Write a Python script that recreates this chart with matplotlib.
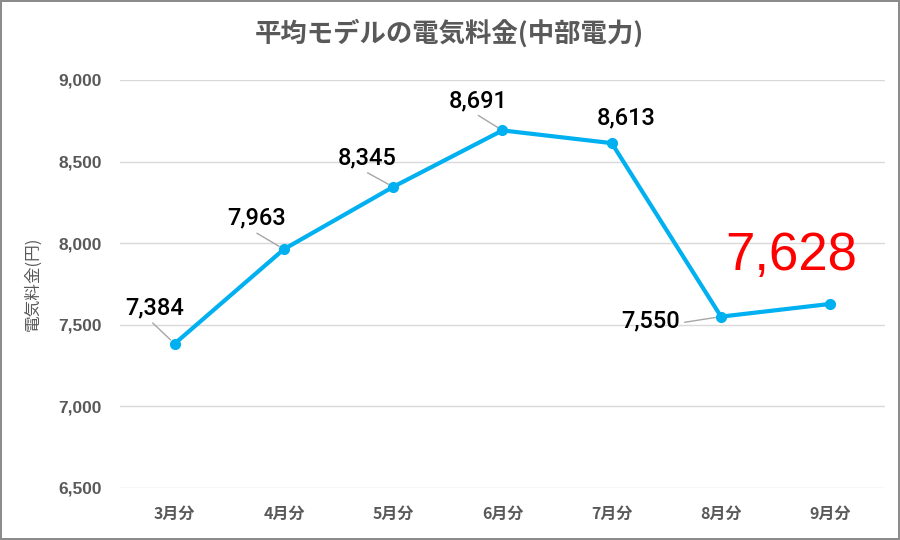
import matplotlib
matplotlib.use("Agg")
import matplotlib.pyplot as plt
from matplotlib.ticker import FuncFormatter

plt.rcParams["font.family"] = ["Noto Sans CJK JP", "DejaVu Sans"]

months = ["3月分", "4月分", "5月分", "6月分", "7月分", "8月分", "9月分"]
fees = [7384, 7963, 8345, 8691, 8613, 7550, 7628]
yticks = [6500, 7000, 7500, 8000, 8500, 9000]
# label offsets in pixels (dx, dy) and whether a leader line is drawn
label_offsets = [(-20, 36), (-27, 31), (-26, 29), (-24, 30), (14, 25), (-70, -4), (-39, 48)]
leader = [True, True, True, True, False, True, False]

LINE = "#00B0F0"
GRAY = "#595959"

fig = plt.figure(figsize=(9, 5.4), dpi=100)
fig.patch.set_edgecolor("#8c8c8c")
fig.patch.set_linewidth(1.5)
ax = fig.add_axes([0.1333, 0.0963, 0.85, 0.7556])

x = range(len(months))
ax.plot(x, fees, color=LINE, lw=3, marker="o", ms=7, zorder=3, solid_capstyle="round")

ax.set_xlim(-0.5, len(months) - 0.5)
ax.set_ylim(6500, 9000)
ax.set_yticks(yticks)
ax.yaxis.set_major_formatter(FuncFormatter(lambda v, p: f"{int(v):,}"))
ax.grid(axis="y", color="#d9d9d9", lw=1)
ax.set_axisbelow(True)
for s in ax.spines.values():
    s.set_visible(False)
ax.tick_params(length=0)
ax.tick_params(axis="y", pad=13)
ax.tick_params(axis="x", pad=13)
ax.set_xticks(list(x))
ax.set_xticklabels(months)
for lab in ax.get_yticklabels():
    lab.set_fontfamily(["Liberation Sans", "DejaVu Sans"])
    lab.set_fontweight("bold")
    lab.set_fontsize(12.5)
    lab.set_color(GRAY)
for lab in ax.get_xticklabels():
    lab.set_fontweight("bold")
    lab.set_fontsize(11.5)
    lab.set_color(GRAY)

ax.set_ylabel("電気料金(円)", fontsize=12, color=GRAY, labelpad=12)

fig.text(0.499, 0.938, "平均モデルの電気料金(中部電力)", ha="center", va="center",
         fontsize=19, fontweight="bold", color=GRAY)

for i, (v, (dx, dy), ld) in enumerate(zip(fees, label_offsets, leader)):
    last = i == len(fees) - 1
    arrow = None
    if ld:
        rel = (1, 0.4) if dx < -50 else (0.4, 0)
        arrow = dict(arrowstyle="-", color="#a6a6a6", lw=1, shrinkA=1, shrinkB=4, relpos=rel)
    ax.annotate(f"{v:,}", (i, v), xytext=(dx, dy), textcoords="offset pixels",
                ha="center", va="center",
                fontsize=38 if last else 17,
                fontweight="normal" if last else "medium",
                color="#ff0000" if last else "black",
                family=["Liberation Sans", "DejaVu Sans"] if last else ["Roboto", "Liberation Sans"],
                arrowprops=arrow, zorder=4)

fig.savefig("out.png", dpi=100)
